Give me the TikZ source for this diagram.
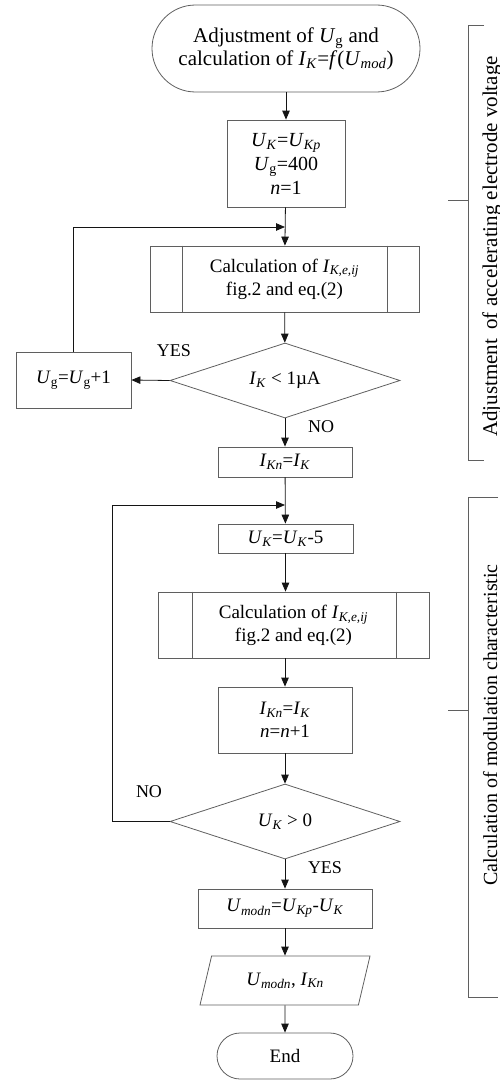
\documentclass[tikz,border=0pt]{standalone}
\usepackage{fontspec}
\setmainfont{Liberation Serif}
\usetikzlibrary{arrows.meta,calc,shapes.geometric}
\definecolor{LineClr}{RGB}{95,95,95}
\definecolor{ArrClr}{RGB}{20,20,20}

\newcommand{\Var}[2]{\textit{#1}\textsubscript{#2}}

\begin{document}
\begin{tikzpicture}[x=1pt,y=-1pt,
  every node/.style={inner sep=1pt,align=center,font=\fontsize{19}{23}\selectfont},
  Blk/.style={draw=LineClr,line width=0.8pt,rectangle},
  Term/.style={Blk,rounded corners=#1},
  Dec/.style={draw=LineClr,line width=0.8pt,diamond,aspect=3.07,inner sep=0pt,
    minimum width=230pt,minimum height=75pt},
  Arr/.style={draw=ArrClr,line width=0.8pt,-{Triangle[length=9pt,width=7.5pt]}},
  Brk/.style={draw=LineClr,line width=0.8pt},
  Lbl/.style={font=\fontsize{18}{22}\selectfont},
  Side/.style={rotate=90,anchor=base,font=\fontsize{20}{24}\selectfont}]
\useasboundingbox (0,0) rectangle (499,1081);

% upper part
\node[Term=43.5pt,minimum width=268pt,minimum height=87pt,
  font=\fontsize{21}{23}\selectfont] (Start) at (286,48.5)
  {Adjustment of \Var{U}{g} and\\calculation of \Var{I}{\textit{K}}=\textit{f}(\Var{U}{\textit{mod}})};
\node[Blk,minimum width=118pt,minimum height=87pt,font=\fontsize{20}{24}\selectfont] (B1) at (286,163.5)
  {\Var{U}{\textit{K}}=\Var{U}{\textit{Kp}}\\\Var{U}{g}=400\\\textit{n}=1};
\node[Blk,minimum width=269pt,minimum height=66pt] (P1) at (284.5,279)
  {Calculation of \Var{I}{\textit{K,e,ij}}\\fig.2 and eq.(2)};
\node[Dec] (D1) at (285,380.5) {\Var{I}{\textit{K}} < 1µA};
\node[Blk,minimum width=115pt,minimum height=56pt] (Ug) at (73.5,380) {\Var{U}{g}=\Var{U}{g}+1};
\coordinate (J1) at (285,227);

% lower part
\node[Blk,minimum width=134pt,minimum height=30pt] (B2) at (285,462) {\Var{I}{\textit{Kn}}=\Var{I}{\textit{K}}};
\node[Blk,minimum width=135pt,minimum height=29pt] (B3) at (285.5,538.5) {\Var{U}{\textit{K}}=\Var{U}{\textit{K}}-5};
\node[Blk,minimum width=271pt,minimum height=66pt] (P2) at (293.5,625)
  {Calculation of \Var{I}{\textit{K,e,ij}}\\fig.2 and eq.(2)};
\node[Blk,minimum width=134pt,minimum height=66pt] (B4) at (285,720)
  {\Var{I}{\textit{Kn}}=\Var{I}{\textit{K}}\\\textit{n}=\textit{n}+1};
\node[Dec] (D2) at (285,821.5) {\Var{U}{\textit{K}} > 0};
\node[Blk,minimum width=174pt,minimum height=39pt] (B5) at (285,908.5)
  {\Var{U}{\textit{modn}}=\Var{U}{\textit{Kp}}-\Var{U}{\textit{K}}};
\node[Blk,trapezium,trapezium left angle=57,trapezium right angle=123,
  trapezium stretches body,minimum width=170pt,minimum height=49pt] (Out) at (285,980.5)
  {\Var{U}{\textit{modn}}, \Var{I}{\textit{Kn}}};
\node[Term=23pt,minimum width=136pt,minimum height=46pt] (End) at (285,1056) {End};
\coordinate (J2) at (285,505);
\coordinate (L2) at (112,821.5);

% side bars of the predefined processes
\draw[Brk] ($(P1.north west)+(33,0)$) -- ($(P1.south west)+(33,0)$);
\draw[Brk] ($(P1.north east)+(-32,0)$) -- ($(P1.south east)+(-32,0)$);
\draw[Brk] ($(P2.north west)+(35,0)$) -- ($(P2.south west)+(35,0)$);
\draw[Brk] ($(P2.north east)+(-33,0)$) -- ($(P2.south east)+(-33,0)$);

% connectors
\draw[Arr] (Start) -- (B1);
\draw[Arr] (B1) -- (P1);
\draw[Arr] (Ug.north) |- (J1);
\draw[Arr] (P1) -- (D1);
\draw[Arr] (D1.west) -- (Ug.east);
\draw[Arr] (D1) -- (B2);
\draw[Arr] (B2) -- (B3);
\draw[Arr] (L2) |- (J2);
\draw[Brk,draw=ArrClr] (D2.west) -- (L2);
\draw[Arr] (B3) -- (B3 |- P2.north);
\draw[Arr] (B4 |- P2.south) -- (B4);
\draw[Arr] (B4) -- (D2);
\draw[Arr] (D2) -- (B5);
\draw[Arr] (B5) -- (Out);
\draw[Arr] (Out) -- (End);

\node[Lbl] (Yes1) at (174,351) {YES};
\node[Lbl] (No1) at (321,427) {NO};
\node[Lbl] (No2) at (149,792) {NO};
\node[Lbl] (Yes2) at (325,868) {YES};

% brackets on the right
\draw[Brk] (484,25) -- (468,25) -- (468,460) -- (484,460);
\draw[Brk] (448,200) -- (468,200);
\draw[Brk] (498,497) -- (468,497) -- (468,997) -- (498,997);
\draw[Brk] (448,710) -- (468,710);
\node[Side,font=\fontsize{21}{24}\selectfont] (S1) at (497,246.5)
  {Adjustment\hspace{0.45em}of accelerating electrode voltage};
\node[Side] (S2) at (497,725) {Calculation of modulation characteristic};
\end{tikzpicture}
\end{document}
